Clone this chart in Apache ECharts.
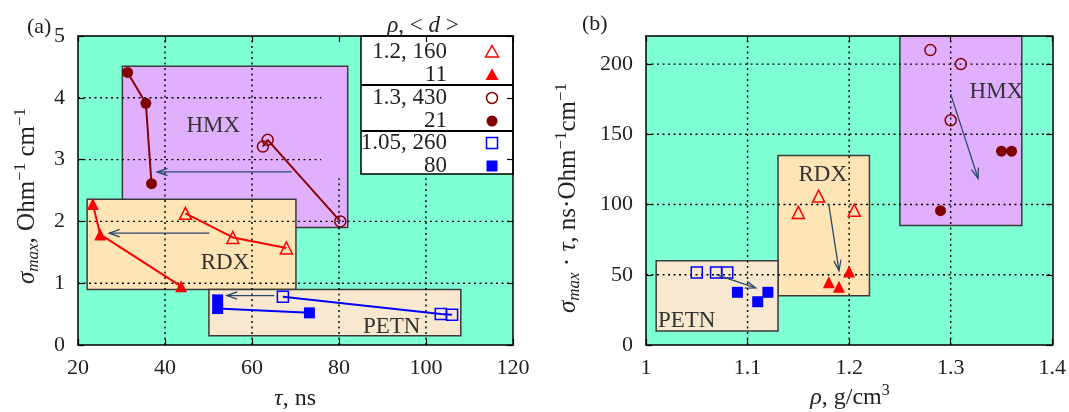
<!DOCTYPE html>
<html><head><meta charset="utf-8">
<script src="https://cdn.jsdelivr.net/npm/echarts@6/dist/echarts.min.js"></script>
<style>html,body{margin:0;padding:0;background:#fff}#c{width:1069px;height:412px}</style>
</head><body><div id="c"></div>
<script>
// ---------- Panel (a): tau (ns) vs sigma_max ----------
const rdx160Tau = [44.7, 55.6, 67.9];   const rdx160Sig = [2.13, 1.74, 1.57];
const rdx11Tau  = [23.4, 25.1, 43.7];   const rdx11Sig  = [2.28, 1.79, 0.95];
const hmx430Tau = [62.5, 63.6, 80.3];   const hmx430Sig = [3.21, 3.32, 2.00];
const hmx21Tau  = [31.4, 35.6, 36.9];   const hmx21Sig  = [4.41, 3.91, 2.61];
const petn260Tau = [67.1, 103.4, 106.0]; const petn260Sig = [0.78, 0.50, 0.49];
const petn80Tau  = [52.1, 52.1, 73.2];   const petn80Sig  = [0.73, 0.59, 0.52];

// ---------- Panel (b): rho vs sigma_max*tau ----------
const rdx160Rho = [1.15, 1.17, 1.205];  const rdx160Prod = [94.4, 106, 96];
const rdx11Rho  = [1.18, 1.19, 1.20];   const rdx11Prod  = [44.6, 41.5, 52.4];
const hmx430Rho = [1.28, 1.31, 1.30];   const hmx430Prod = [210, 200, 160];
const hmx21Rho  = [1.29, 1.35, 1.36];   const hmx21Prod  = [95.6, 138, 138];
const petn260Rho = [1.05, 1.069, 1.08]; const petn260Prod = [51.7, 51.7, 51.7];
const petn80Rho  = [1.09, 1.11, 1.12];  const petn80Prod  = [37.5, 30.8, 37.5];

// ---------- Region boxes ----------
const regionNames = ['HMX', 'RDX', 'PETN'];
const regionAx0 = [30.2, 22.1, 50.1], regionAx1 = [82.0, 70.1, 108.0];
const regionAy0 = [1.90, 0.90, 0.15], regionAy1 = [4.51, 2.36, 0.90];
const regionAlabX = [51.1, 53.8, 92.1], regionAlabY = [3.54, 1.32, 0.30];
const regionBx0 = [1.25, 1.13, 1.01], regionBx1 = [1.37, 1.22, 1.13];
const regionBy0 = [85, 35, 10], regionBy1 = [220, 135, 60];
const regionBlabX = [1.345, 1.174, 1.04], regionBlabY = [180, 121, 17];

// ---------- Arrows [x1,y1,x2,y2] ----------
const arrowsA = [[69.1, 2.80, 38.2, 2.80], [50.2, 1.81, 27.2, 1.81], [65.1, 0.80, 54.2, 0.80]];
const arrowsB = [[1.30, 178.6, 1.327, 118.6], [1.18, 100, 1.19, 53], [1.069, 50.1, 1.108, 40.6]];

// ---------- Grid lines [x1,y1,x2,y2] ----------
const gridA = [[40,0,40,5],[60,0,60,5],[80,0,80,2.7],[100,0,100,2.7],
               [20,1,120,1],[20,2,120,2],[20,3,75.9,3],[20,4,75.9,4]];
const gridB = [[1.1,0,1.1,220],[1.2,0,1.2,220],[1.3,0,1.3,220],
               [1,50,1.4,50],[1,100,1.4,100],[1,150,1.4,150],[1,200,1.4,200]];

// ---------- Texts ----------
const legendTitle = '{i|ρ}{n|, < }{i|d}{n| >}';
const legendLabels = ['1.2, 160', '11', '1.3, 430', '21', '1.05, 260', '80'];
const titleXa = '{i|τ}{n|, ns}';
const titleXb = '{i|ρ}{n|, g/cm}{sup|3}';
const titleYa = '{i|σ}{sub|max}{n|, Ohm}{sup|−1}{n| cm}{sup|−1}';
const titleYb = '{i|σ}{sub|max}{n| · }{i|τ}{n|, ns·Ohm}{sup|−1}{n|cm}{sup|−1}';

const FONT = "'Liberation Serif','DejaVu Serif',serif";
const TXT = '#222';
const RED = '#ff0000', DRED = '#800000', DRED_LINE = '#8b0000', BLUE = '#0000ff';
const regionFills = ['#e0b0ff', '#ffe4b5', '#f9e8d0'];

function pts(xs, ys) { return xs.map((x, i) => [x, ys[i]]); }

const seriesStyles = [
  { sym: 'triangle', open: true,  color: RED,  line: RED,       size: 12 },
  { sym: 'triangle', open: false, color: RED,  line: RED,       size: 12 },
  { sym: 'circle',   open: true,  color: DRED, line: DRED_LINE, size: 11 },
  { sym: 'circle',   open: false, color: DRED, line: DRED_LINE, size: 11 },
  { sym: 'rect',     open: true,  color: BLUE, line: BLUE,      size: 11 },
  { sym: 'rect',     open: false, color: BLUE, line: BLUE,      size: 11 }
];
const dataA = [pts(rdx160Tau, rdx160Sig), pts(rdx11Tau, rdx11Sig), pts(hmx430Tau, hmx430Sig),
               pts(hmx21Tau, hmx21Sig), pts(petn260Tau, petn260Sig), pts(petn80Tau, petn80Sig)];
const dataB = [pts(rdx160Rho, rdx160Prod), pts(rdx11Rho, rdx11Prod), pts(hmx430Rho, hmx430Prod),
               pts(hmx21Rho, hmx21Prod), pts(petn260Rho, petn260Prod), pts(petn80Rho, petn80Prod)];

function itemStyleOf(s) {
  return s.open ? { color: 'rgba(0,0,0,0)', borderColor: s.color, borderWidth: 1.5, opacity: 1 }
                : { color: s.color, borderWidth: 0, opacity: 1 };
}

function regionSeries(idx, x0, x1, y0, y1, lx, ly) {
  return {
    type: 'custom', xAxisIndex: idx, yAxisIndex: idx, z: 1, clip: false, silent: true,
    data: regionNames.map((n, i) => [x0[i], x1[i], y0[i], y1[i], lx[i], ly[i]]),
    encode: { x: [0, 1], y: [2, 3] },
    renderItem: function (params, api) {
      const i = params.dataIndex;
      const p0 = api.coord([api.value(0), api.value(3)]);
      const p1 = api.coord([api.value(1), api.value(2)]);
      const lp = api.coord([api.value(4), api.value(5)]);
      return { type: 'group', children: [
        { type: 'rect', shape: { x: p0[0], y: p0[1], width: p1[0] - p0[0], height: p1[1] - p0[1] },
          style: { fill: regionFills[i], stroke: '#3a3a3a', lineWidth: 1.5 } },
        { type: 'text', x: lp[0], y: lp[1], z2: 5,
          style: { text: regionNames[i], fontFamily: FONT, fontSize: 23, fill: '#333', align: 'center', verticalAlign: 'middle' } }
      ]};
    }
  };
}

function segSeries(idx, segs, z, fn) {
  return { type: 'custom', xAxisIndex: idx, yAxisIndex: idx, z: z, clip: false, silent: true,
    data: segs, encode: { x: [0, 2], y: [1, 3] }, renderItem: fn };
}

function gridRender(params, api) {
  const a = api.coord([api.value(0), api.value(1)]);
  const b = api.coord([api.value(2), api.value(3)]);
  return { type: 'line', shape: { x1: a[0], y1: a[1], x2: b[0], y2: b[1] },
           style: { stroke: '#000', lineWidth: 1.4, lineDash: [2, 3.5] } };
}

function arrowRender(params, api) {
  const a = api.coord([api.value(0), api.value(1)]);
  const b = api.coord([api.value(2), api.value(3)]);
  const ang = Math.atan2(b[1] - a[1], b[0] - a[0]);
  const L = 11, sp = 0.34;
  const h1 = [b[0] - L * Math.cos(ang - sp), b[1] - L * Math.sin(ang - sp)];
  const h2 = [b[0] - L * Math.cos(ang + sp), b[1] - L * Math.sin(ang + sp)];
  const st = { stroke: '#28486b', lineWidth: 1.3, fill: 'none' };
  return { type: 'group', children: [
    { type: 'line', shape: { x1: a[0], y1: a[1], x2: b[0], y2: b[1] }, style: st },
    { type: 'polyline', shape: { points: [h1, b, h2] }, style: st }
  ]};
}

const series = [];
series.push(regionSeries(0, regionAx0, regionAx1, regionAy0, regionAy1, regionAlabX, regionAlabY));
series.push(regionSeries(1, regionBx0, regionBx1, regionBy0, regionBy1, regionBlabX, regionBlabY));
series.push(segSeries(0, gridA, 2, gridRender));
series.push(segSeries(1, gridB, 2, gridRender));
dataA.forEach((d, i) => {
  const s = seriesStyles[i];
  series.push({ type: 'line', xAxisIndex: 0, yAxisIndex: 0, z: 3, data: d, symbol: s.sym, symbolSize: s.size,
    showSymbol: true, lineStyle: { color: s.line, width: 2 }, itemStyle: itemStyleOf(s),
    emphasis: { disabled: true }, silent: true });
});
dataB.forEach((d, i) => {
  const s = seriesStyles[i];
  series.push({ type: 'scatter', xAxisIndex: 1, yAxisIndex: 1, z: 3, data: d, symbol: s.sym, symbolSize: s.size,
    itemStyle: itemStyleOf(s), emphasis: { disabled: true }, silent: true });
});
series.push(segSeries(0, arrowsA, 4, arrowRender));
series.push(segSeries(1, arrowsB, 4, arrowRender));

const FS = 22;
function richFor(fs, sfs) {
  return {
    i:   { fontFamily: FONT, fontSize: fs, fontStyle: 'italic', fill: TXT, lineHeight: 30 },
    n:   { fontFamily: FONT, fontSize: fs, fill: TXT, lineHeight: 30 },
    sub: { fontFamily: FONT, fontSize: sfs, fontStyle: 'italic', fill: TXT, lineHeight: 17, verticalAlign: 'bottom' },
    sup: { fontFamily: FONT, fontSize: sfs, fill: TXT, lineHeight: 17, verticalAlign: 'top' }
  };
}
const labelStyle = { fontFamily: FONT, fontSize: FS, color: TXT };

function axisCommon(gi, min, max, interval, pos) {
  return { type: 'value', gridIndex: gi, min: min, max: max, interval: interval, position: pos, z: 60,
    axisLine: { show: true, onZero: false, lineStyle: { color: '#000', width: 1.5 } },
    axisTick: { show: true, inside: true, length: 6, lineStyle: { color: '#000', width: 1.2 } },
    splitLine: { show: false } };
}
function mainX(gi, min, max, interval) {
  return Object.assign(axisCommon(gi, min, max, interval, 'bottom'), { axisLabel: Object.assign({ margin: 12 }, labelStyle) });
}
function mainY(gi, min, max, interval, showMax) {
  return Object.assign(axisCommon(gi, min, max, interval, 'left'), { axisLabel: Object.assign({ margin: 13, showMaxLabel: showMax }, labelStyle) });
}
function mirror(gi, min, max, interval, pos) {
  return Object.assign(axisCommon(gi, min, max, interval, pos), { axisLabel: { show: false } });
}

function gtext(text, x, y, rot, align, fs, sfs) {
  return { type: 'text', x: x, y: y, rotation: rot || 0, z: 100,
    style: { text: text, fontFamily: FONT, fontSize: fs || FS, fill: TXT, align: align || 'center', verticalAlign: 'middle', rich: richFor(fs || FS, sfs || 15) } };
}

// legend graphic
const LX0 = 361, LX1 = 513, LY0 = 36, LY1 = 174;
const rowY = [52, 75, 98, 121, 143, 166];
const mX = 492;
const graphic = [
  gtext('(a)', 27, 27, 0, 'left'),
  gtext('(b)', 582, 24, 0, 'left'),
  gtext(titleXa, 295, 399, 0, 'center', 24, 16),
  gtext(titleXb, 850, 398, 0, 'center', 24, 16),
  gtext(titleYa, 27, 196, Math.PI / 2, 'center', 25, 17),
  gtext(titleYb, 568, 198, Math.PI / 2, 'center', 25, 17),
  { type: 'rect', z: 50, shape: { x: LX0, y: LY0, width: LX1 - LX0, height: LY1 - LY0 }, style: { fill: '#fff', stroke: '#000', lineWidth: 1.5 } },
  { type: 'line', z: 51, shape: { x1: LX0, y1: 85, x2: LX1, y2: 85 }, style: { stroke: '#000', lineWidth: 2 } },
  { type: 'line', z: 51, shape: { x1: LX0, y1: 131, x2: LX1, y2: 131 }, style: { stroke: '#000', lineWidth: 2 } },
  gtext(legendTitle, 423, 26, 0, 'center', 23, 15)
];
legendLabels.forEach((t, i) => {
  graphic.push({ type: 'text', x: 447, y: rowY[i], z: 51, style: { text: t, fontFamily: FONT, fontSize: 23, fill: TXT, align: 'right', verticalAlign: 'middle' } });
  const s = seriesStyles[i], y = rowY[i];
  const st = s.open ? { fill: 'none', stroke: s.color, lineWidth: 1.5 } : { fill: s.color };
  if (s.sym === 'triangle') graphic.push({ type: 'polygon', z: 52, shape: { points: [[mX, y - 6.5], [mX + 6.5, y + 5], [mX - 6.5, y + 5]] }, style: st });
  else if (s.sym === 'circle') graphic.push({ type: 'circle', z: 52, shape: { cx: mX, cy: y, r: 5.5 }, style: st });
  else graphic.push({ type: 'rect', z: 52, shape: { x: mX - 5.5, y: y - 5.5, width: 11, height: 11 }, style: st });
});

const option = {
  animation: false,
  backgroundColor: '#fff',
  grid: [
    { left: 78, top: 36, width: 435, height: 309, show: true, backgroundColor: '#7fffd4', borderWidth: 0 },
    { left: 646, top: 36, width: 407, height: 309, show: true, backgroundColor: '#7fffd4', borderWidth: 0 }
  ],
  xAxis: [ mainX(0, 20, 120, 20), mainX(1, 1, 1.4, 0.1), mirror(0, 20, 120, 20, 'top'), mirror(1, 1, 1.4, 0.1, 'top') ],
  yAxis: [ mainY(0, 0, 5, 1, true), mainY(1, 0, 220, 50, false), mirror(0, 0, 5, 1, 'right'), mirror(1, 0, 220, 50, 'right') ],
  series: series,
  graphic: graphic
};
const chart = echarts.init(document.getElementById('c'), null, { renderer: 'canvas' });
chart.setOption(option);
</script></body></html>
